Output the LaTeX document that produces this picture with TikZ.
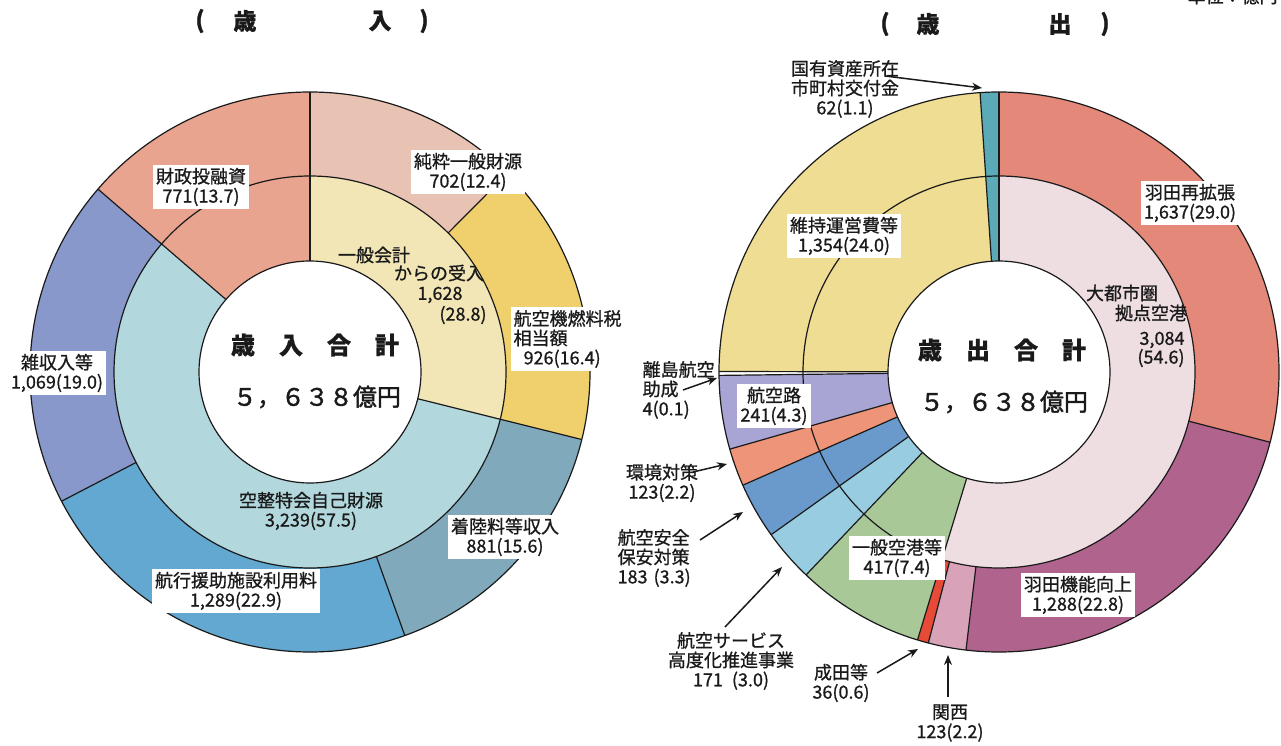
\documentclass[tikz,border=0pt]{standalone}
\usepackage{fontspec}
\newfontfamily\jp{Noto Sans CJK JP}[FakeBold=0.9]
\newfontfamily\jpm{Noto Sans CJK JP}[FakeBold=1.6]
\usetikzlibrary{arrows.meta}
\definecolor{cJunsui}{HTML}{E8C2B2}
\definecolor{cNenryo}{HTML}{EFD06C}
\definecolor{cChaku}{HTML}{80AABC}
\definecolor{cKoko}{HTML}{62A8D0}
\definecolor{cZatsu}{HTML}{8898CA}
\definecolor{cZaisei}{HTML}{E8A48E}
\definecolor{cIppan}{HTML}{F3E6B6}
\definecolor{cKusei}{HTML}{B2D8DE}
\definecolor{cSaikaku}{HTML}{E4887A}
\definecolor{cKino}{HTML}{B0638C}
\definecolor{cKansai}{HTML}{D8A2B8}
\definecolor{cNarita}{HTML}{E84A38}
\definecolor{cDaitoshi}{HTML}{EEDEE2}
\definecolor{cIppanK}{HTML}{A8C898}
\definecolor{cService}{HTML}{98CCE0}
\definecolor{cHoan}{HTML}{6A9ACC}
\definecolor{cKankyo}{HTML}{EE9478}
\definecolor{cKokuro}{HTML}{A8A4D4}
\definecolor{cIji}{HTML}{EEDD92}
\definecolor{cKokuyu}{HTML}{5AAAB8}
\definecolor{ink}{HTML}{1A1A1A}
\newcommand\ringseg[6]{\fill[#6,shift={(#1)}] (#4:#2pt) arc[start angle=#4,end angle=#5,radius=#2pt] -- (#5:#3pt) arc[start angle=#5,end angle=#4,radius=#3pt] -- cycle;}
\newcommand\radline[4]{\draw[shift={(#1)}] (#4:#2pt) -- (#4:#3pt);}
\begin{document}
\begin{tikzpicture}[x=1pt,y=1pt,line width=1.2pt,draw=ink,
  lbl/.style={font=\jp\fontsize{18}{19.5}\selectfont,text=ink,align=center,inner sep=1pt},
  lbox/.style={lbl,fill=white,inner sep=3pt},
  big/.style={font=\jp\bfseries\fontsize{24}{26}\selectfont,text=ink,inner sep=0pt},
  bignum/.style={font=\jpm\fontsize{24}{26}\selectfont,text=ink,inner sep=0pt},
  ttl/.style={font=\jp\bfseries\fontsize{23}{25}\selectfont,text=ink,inner sep=0pt},
  arr/.style={draw=ink,line width=1.5pt,-{Stealth[length=10pt,width=8pt]}}]
\useasboundingbox (0,0) rectangle (1281,745);
\fill[white] (0,0) rectangle (1281,745);
\coordinate (L) at (310,373);
\coordinate (R) at (999,373);
% ---------- left chart ----------
\ringseg{L}{196}{280}{90}{45.18}{cJunsui}
\ringseg{L}{196}{280}{45.18}{-13.95}{cNenryo}
\ringseg{L}{196}{280}{-13.95}{-70.21}{cChaku}
\ringseg{L}{196}{280}{-70.21}{-152.52}{cKoko}
\ringseg{L}{196}{280}{-152.52}{-220.78}{cZatsu}
\ringseg{L}{111}{280}{-220.78}{-270}{cZaisei}
\ringseg{L}{111}{196}{90}{-13.95}{cIppan}
\ringseg{L}{111}{196}{-13.95}{-220.78}{cKusei}
\draw (L) circle[radius=280pt];
\draw (L) circle[radius=196pt];
\draw[fill=white] (L) circle[radius=111pt];
\radline{L}{111}{280}{90}
\radline{L}{196}{280}{45.18}
\radline{L}{111}{280}{-13.95}
\radline{L}{196}{280}{-70.21}
\radline{L}{196}{280}{-152.52}
\radline{L}{111}{280}{-220.78}
% ---------- right chart ----------
\ringseg{R}{196}{280}{90}{-14.53}{cSaikaku}
\ringseg{R}{196}{280}{-14.53}{-96.77}{cKino}
\ringseg{R}{196}{280}{-96.77}{-104.62}{cKansai}
\ringseg{R}{196}{280}{-104.62}{-106.92}{cNarita}
\ringseg{R}{111}{196}{90}{-106.92}{cDaitoshi}
\ringseg{R}{111}{280}{-106.92}{-133.55}{cIppanK}
\ringseg{R}{111}{280}{-133.55}{-144.47}{cService}
\ringseg{R}{111}{280}{-144.47}{-156.16}{cHoan}
\ringseg{R}{111}{280}{-156.16}{-164.01}{cKankyo}
\ringseg{R}{111}{280}{-164.01}{-179.3}{cKokuro}
\ringseg{R}{111}{280}{-179.3}{-180.1}{white}
\ringseg{R}{111}{280}{-180.1}{-266.12}{cIji}
\ringseg{R}{111}{280}{-266.12}{-270}{cKokuyu}
\draw (R) circle[radius=280pt];
\draw (R) circle[radius=196pt];
\draw[fill=white] (R) circle[radius=111pt];
\foreach \a in {90,-106.92,-133.55,-144.47,-156.16,-164.01,-179.3,-180.1,-266.12}{\radline{R}{111}{280}{\a}}
\foreach \a in {-14.53,-96.77,-104.62}{\radline{R}{196}{280}{\a}}
% ---------- titles ----------
\node[ttl] (tL1) at (200,724) {(};
\node[ttl] (tL2) at (245,724) {歳};
\node[ttl] (tL3) at (380,724) {入};
\node[ttl] (tL4) at (424,724) {)};
\node[ttl] (tR1) at (885,721) {(};
\node[ttl] (tR2) at (928,721) {歳};
\node[ttl] (tR3) at (1060,721) {出};
\node[ttl] (tR4) at (1105,721) {)};
\node[lbl,anchor=west] (unit) at (1186,749) {単位：億円};
% ---------- left labels ----------
\node[lbox] (nZaisei) at (201,558) {財政投融資\\771(13.7)};
\node[lbox] (nJunsui) at (468,573) {純粋一般財源\\702(12.4)};
\node[lbl] (nIppanA) at (374,490) {一般会計};
\node[lbl] (nIppanB) at (439,472) {からの受入};
\node[lbl] (nIppanC) at (440,450) {1,628};
\node[lbl] (nIppanD) at (463,430) {(28.8)};
\node[lbox,align=left,anchor=west] (nNenryo) at (510,406) {航空機燃料税\\相当額\\\hspace*{10pt}926(16.4)};
\node[lbox] (nZatsu) at (57,372) {雑収入等\\1,069(19.0)};
\node[lbl] (nKusei) at (311,234) {空整特会自己財源\\3,239(57.5)};
\node[lbox] (nChaku) at (505,208) {着陸料等収入\\881(15.6)};
\node[lbox] (nKoko) at (236,154) {航行援助施設利用料\\1,289(22.9)};
\node[big] (nSainyu) at (315,400) {歳　入　合　計};
\node[bignum] (nSainyuV) at (317,348) {５，６３８億円};
% ---------- right labels ----------
\node[lbl] (nKokuyu) at (845,656) {国有資産所在\\市町村交付金\\62(1.1)};
\node[lbox] (nSaikaku) at (1190,542) {羽田再拡張\\1,637(29.0)};
\node[lbox] (nIji) at (844,509) {維持運営費等\\1,354(24.0)};
\node[lbl] (nDaiA) at (1122,452) {大都市圏};
\node[lbl] (nDaiB) at (1151,432) {拠点空港};
\node[lbl] (nDaiC) at (1162,405) {3,084};
\node[lbl] (nDaiD) at (1161,387) {(54.6)};
\node[big] (nSaishutsu) at (1002,395) {歳　出　合　計};
\node[bignum] (nSaishutsuV) at (1004,343) {５，６３８億円};
\node[lbl,align=left,anchor=west] (nRitou) at (641,355) {離島航空\\助成\\4(0.1)};
\node[lbl] (nKankyo) at (662,262) {環境対策\\123(2.2)};
\node[lbl,align=left,anchor=west] (nHoan) at (616,187) {航空安全\\保安対策\\183\hspace{6pt}(3.3)};
\node[lbl] (nService) at (731,84) {航空サービス\\高度化推進事業\\171\hspace{9pt}(3.0)};
\node[lbl] (nNarita) at (841,62) {成田等\\36(0.6)};
\node[lbl] (nKansai) at (950,22) {関西\\123(2.2)};
\node[lbox] (nKokuro) at (774,339) {航空路\\241(4.3)};
\node[lbox] (nIppanK) at (897,187) {一般空港等\\417(7.4)};
\node[lbox] (nKino) at (1078,150) {羽田機能向上\\1,288(22.8)};
% ---------- arrows ----------
\coordinate (kokuyuS) at (885,669);  \coordinate (kokuyuT) at (982,657);
\coordinate (ritouS) at (683,355);   \coordinate (ritouT) at (717,367);
\coordinate (kankyoS) at (693,273);  \coordinate (kankyoT) at (727,281);
\coordinate (hoanS) at (700,205);    \coordinate (hoanT) at (743,233);
\coordinate (serviceS) at (725,118); \coordinate (serviceT) at (782,178);
\coordinate (naritaS) at (877,72);   \coordinate (naritaT) at (918,96);
\coordinate (kansaiS) at (948,48);   \coordinate (kansaiT) at (948,90);
\draw[arr] (kokuyuS) -- (kokuyuT);
\draw[arr] (ritouS) -- (ritouT);
\draw[arr] (kankyoS) -- (kankyoT);
\draw[arr] (hoanS) -- (hoanT);
\draw[arr] (serviceS) -- (serviceT);
\draw[arr] (naritaS) -- (naritaT);
\draw[arr] (kansaiS) -- (kansaiT);
\end{tikzpicture}
\end{document}
